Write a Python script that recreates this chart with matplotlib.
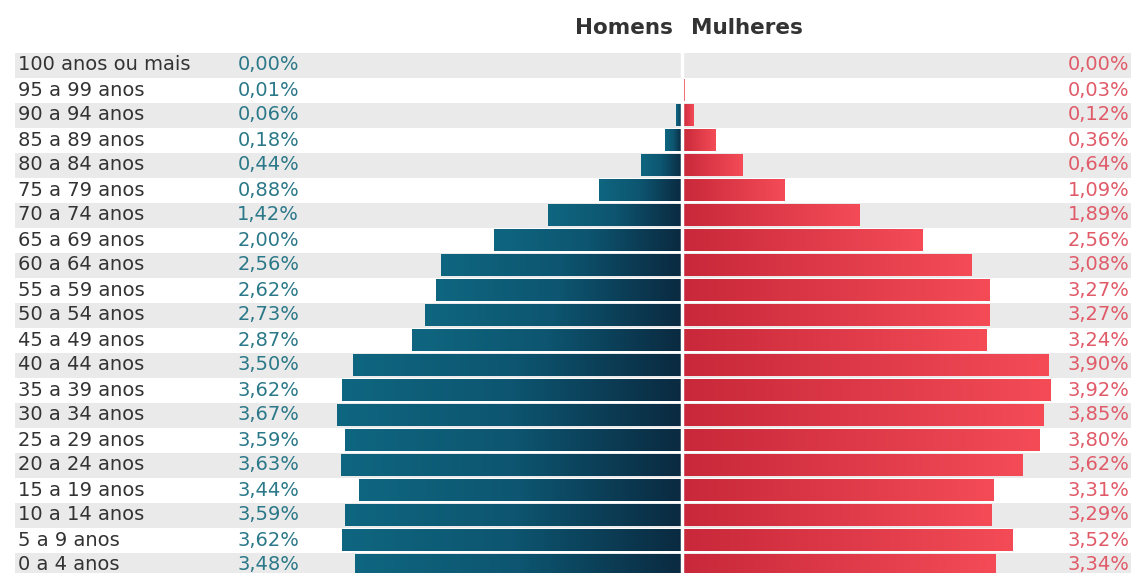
import matplotlib.pyplot as plt
import numpy as np
from matplotlib.colors import LinearSegmentedColormap

faixas = ["100 anos ou mais", "95 a 99 anos", "90 a 94 anos", "85 a 89 anos",
          "80 a 84 anos", "75 a 79 anos", "70 a 74 anos", "65 a 69 anos",
          "60 a 64 anos", "55 a 59 anos", "50 a 54 anos", "45 a 49 anos",
          "40 a 44 anos", "35 a 39 anos", "30 a 34 anos", "25 a 29 anos",
          "20 a 24 anos", "15 a 19 anos", "10 a 14 anos", "5 a 9 anos", "0 a 4 anos"]
homens = [0.00, 0.01, 0.06, 0.18, 0.44, 0.88, 1.42, 2.00, 2.56, 2.62, 2.73,
          2.87, 3.50, 3.62, 3.67, 3.59, 3.63, 3.44, 3.59, 3.62, 3.48]
mulheres = [0.00, 0.03, 0.12, 0.36, 0.64, 1.09, 1.89, 2.56, 3.08, 3.27, 3.27,
            3.24, 3.90, 3.92, 3.85, 3.80, 3.62, 3.31, 3.29, 3.52, 3.34]

cmap_h = LinearSegmentedColormap.from_list("h", ["#0f6680", "#0d5570", "#0a2a40"])
cmap_m = LinearSegmentedColormap.from_list("m", ["#c8283a", "#f44b57"])
grad = np.linspace(0, 1, 256).reshape(1, -1)

fig = plt.figure(figsize=(11.31, 5.73), dpi=100)
ax = fig.add_axes([0, 0, 1, 1])
ax.set_xlim(-7.255, 4.777)
ax.set_ylim(20.32, -2.6)
ax.axis("off")

y = np.arange(len(faixas))

# faixas cinzas alternadas
for i in y[::2]:
    ax.barh(i, 12, left=-7.1, height=1.0, color="#eaeaea", zorder=0)

barras_h = ax.barh(y, [-v for v in homens], height=0.88, color="none", zorder=2)
barras_m = ax.barh(y, mulheres, height=0.88, color="none", zorder=2)

for b in barras_h:
    if b.get_width() == 0:
        continue
    x0, y0 = b.get_x() + b.get_width(), b.get_y()
    im = ax.imshow(grad, cmap=cmap_h, aspect="auto", zorder=2,
                   extent=(x0, 0, y0 + b.get_height(), y0))
    im.set_clip_path(b)
for b in barras_m:
    if b.get_width() == 0:
        continue
    y0 = b.get_y()
    im = ax.imshow(grad, cmap=cmap_m, aspect="auto", zorder=2,
                   extent=(0, b.get_width(), y0 + b.get_height(), y0))
    im.set_clip_path(b)

ax.axvline(0, color="white", lw=2.5, zorder=3)

fonte = "DejaVu Sans"
for i, nome in enumerate(faixas):
    ax.text(-7.06, i, nome, ha="left", va="center", fontsize=14, color="#333333",
            family=fonte)
    ax.text(-4.73, i, f"{homens[i]:.2f}%".replace(".", ","), ha="left", va="center",
            fontsize=14, color="#2a7888", family=fonte)
    ax.text(4.76, i, f"{mulheres[i]:.2f}%".replace(".", ","), ha="right", va="center",
            fontsize=14, color="#e05a68", family=fonte)

ax.text(-0.1, -1.5, "Homens", ha="right", va="center", fontsize=15.5,
        fontweight="bold", color="#333333", family=fonte)
ax.text(0.1, -1.5, "Mulheres", ha="left", va="center", fontsize=15.5,
        fontweight="bold", color="#333333", family=fonte)

fig.savefig("out.png", dpi=100)
